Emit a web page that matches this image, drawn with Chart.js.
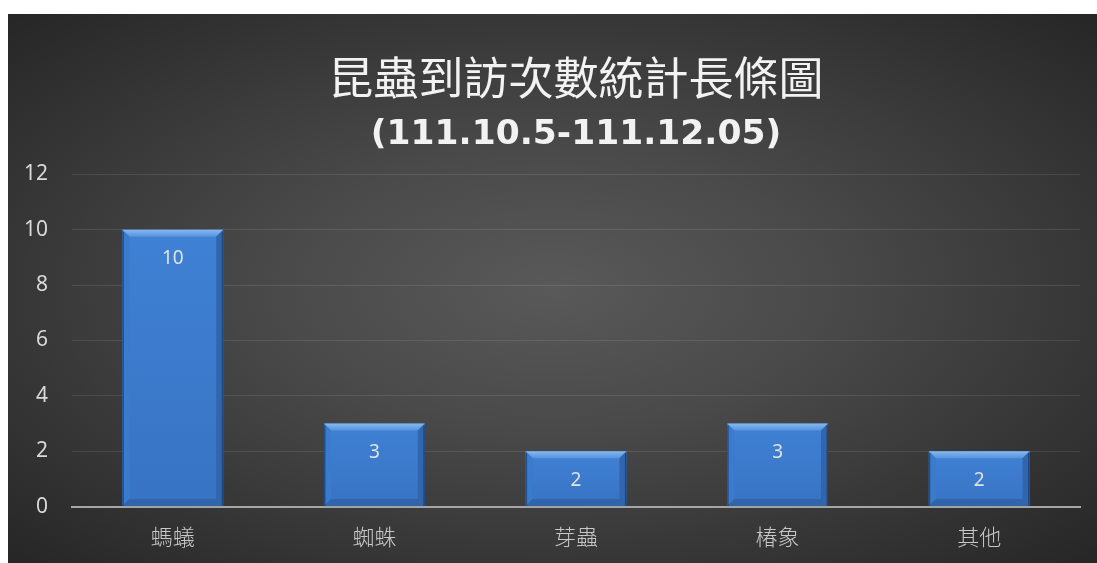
<!DOCTYPE html>
<html>
<head>
<meta charset="utf-8">
<script src="https://cdn.jsdelivr.net/npm/chart.js@4"></script>
<style>
  html, body { margin: 0; padding: 0; background: #fff; }
  #wrap {
    position: absolute; left: 8px; top: 14px; width: 1089px; height: 549px;
    background: radial-gradient(ellipse farthest-corner at 50% 50%, #595959 0%, #4a4a4a 35%, #262626 100%);
  }
</style>
</head>
<body>
<div id="wrap"><canvas id="chart"></canvas></div>
<script>
// chart data
const categories = ["螞蟻", "蜘蛛", "芽蟲", "椿象", "其他"];
const visits = [10, 3, 2, 3, 2];
const titleLine = "昆蟲到訪次數統計長條圖";
const subtitleLine = "(111.10.5-111.12.05)";

// bevel look for each bar, using the bar elements' own geometry
const bevelBars = {
    id: "bevelBars",
    afterDatasetsDraw(chart) {
        const ctx = chart.ctx;
        const meta = chart.getDatasetMeta(0);
        meta.data.forEach((bar) => {
            const w = bar.width;
            const l = bar.x - w / 2, r = bar.x + w / 2;
            const t = bar.y, b = bar.base;
            const s = Math.min(7, (b - t) / 3);
            ctx.save();
            // face
            const g = ctx.createLinearGradient(0, t, 0, b);
            g.addColorStop(0, "#3f81d4");
            g.addColorStop(1, "#3873c4");
            ctx.fillStyle = g;
            ctx.fillRect(l, t, w, b - t);
            // top facet
            ctx.beginPath();
            ctx.moveTo(l, t); ctx.lineTo(r, t); ctx.lineTo(r - s, t + s); ctx.lineTo(l + s, t + s); ctx.closePath();
            const gt = ctx.createLinearGradient(0, t, 0, t + s);
            gt.addColorStop(0, "#86b8ef");
            gt.addColorStop(1, "#5593de");
            ctx.fillStyle = gt;
            ctx.fill();
            // left facet
            ctx.beginPath();
            ctx.moveTo(l, t); ctx.lineTo(l + s, t + s); ctx.lineTo(l + s, b - s); ctx.lineTo(l, b); ctx.closePath();
            ctx.fillStyle = "#3b7bcc";
            ctx.fill();
            // right facet
            ctx.beginPath();
            ctx.moveTo(r, t); ctx.lineTo(r - s, t + s); ctx.lineTo(r - s, b - s); ctx.lineTo(r, b); ctx.closePath();
            ctx.fillStyle = "#3166ad";
            ctx.fill();
            // bottom facet
            ctx.beginPath();
            ctx.moveTo(l, b); ctx.lineTo(l + s, b - s); ctx.lineTo(r - s, b - s); ctx.lineTo(r, b); ctx.closePath();
            ctx.fillStyle = "#3164a8";
            ctx.fill();
            // thin dark outer edges
            ctx.strokeStyle = "rgba(20,50,100,0.6)";
            ctx.lineWidth = 1.5;
            ctx.beginPath();
            ctx.moveTo(l + 0.75, t + 2); ctx.lineTo(l + 0.75, b);
            ctx.moveTo(r - 0.75, t + 2); ctx.lineTo(r - 0.75, b);
            ctx.stroke();
            ctx.restore();
        });
        // value labels inside the bars
        ctx.save();
        ctx.font = "19px 'Noto Sans', sans-serif";
        ctx.fillStyle = "#e2e2e2";
        ctx.textAlign = "center";
        ctx.textBaseline = "middle";
        meta.data.forEach((bar, i) => {
            ctx.fillText(String(visits[i]), bar.x, bar.y + 29);
        });
        ctx.restore();
    }
};

const ctx = document.getElementById("chart").getContext("2d");
new Chart(ctx, {
    type: "bar",
    data: {
        labels: categories,
        datasets: [
            {
                data: visits,
                backgroundColor: "rgba(0,0,0,0)",
                borderWidth: 0,
                barPercentage: 0.5,
                categoryPercentage: 1.0,
            },
        ],
    },
    options: {
        responsive: true,
        maintainAspectRatio: false,
        animation: false,
        layout: { padding: { left: -8, right: 17, top: 0, bottom: -4 } },
        plugins: {
            legend: { display: false },
            tooltip: { enabled: false },
            title: {
                display: true,
                fullSize: false,
                text: titleLine,
                color: "#f2f2f2",
                font: { family: "'Noto Sans CJK TC', sans-serif", size: 45, weight: "normal", lineHeight: 1.2 },
                padding: { top: 37, bottom: 0 },
            },
            subtitle: {
                display: true,
                fullSize: false,
                text: subtitleLine,
                color: "#f2f2f2",
                font: { family: "'DejaVu Sans', sans-serif", size: 34.5, weight: "bold", lineHeight: 1.2 },
                padding: { top: 9, bottom: 19 },
            },
        },
        scales: {
            x: {
                grid: { display: false, drawTicks: false },
                border: { display: true, color: "#a6a6a6", width: 2 },
                ticks: {
                    color: "#c8c8c8",
                    padding: 17,
                    font: { family: "'Noto Sans CJK TC', sans-serif", size: 22, weight: 300 },
                },
            },
            y: {
                min: 0,
                max: 12,
                ticks: {
                    stepSize: 2,
                    color: "#d9d9d9",
                    padding: 24,
                    font: { family: "'Noto Sans', sans-serif", size: 21 },
                },
                grid: { color: "rgba(255,255,255,0.1)", drawTicks: false },
                border: { display: false },
            },
        },
    },
    plugins: [bevelBars],
});
</script>
</body>
</html>
